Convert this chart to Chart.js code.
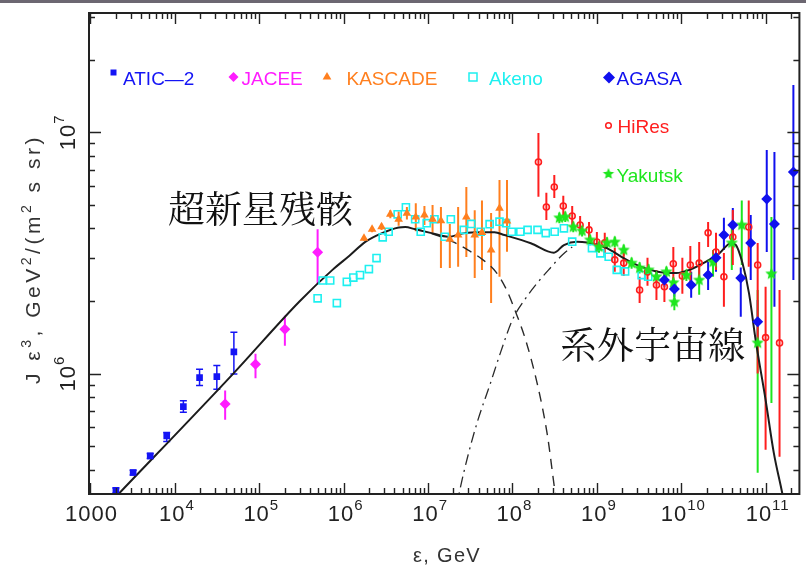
<!DOCTYPE html>
<html><head><meta charset="utf-8">
<script src="https://cdn.jsdelivr.net/npm/chart.js@4.4.0/dist/chart.umd.min.js"></script>
<style>html,body{margin:0;padding:0;background:#fff;}canvas{display:block;}</style>
</head><body>
<canvas id="c" width="806" height="571"></canvas>
<script>
// ---------------- DATA (energy E in GeV, J*E^3 in GeV^2/(m^2 s sr)) ----------------
const aticE  = [2.0e3, 3.2e3, 5.1e3, 8.0e3, 1.26e4, 1.96e4, 3.14e4, 5.0e4];
const aticJ  = [3.28e5, 3.89e5, 4.56e5, 5.52e5, 7.3e5, 9.62e5, 9.72e5, 1.23e6];
const aticLo = [3.2e5, 3.8e5, 4.45e5, 5.23e5, 6.92e5, 8.92e5, 8.61e5, 9.97e5];
const aticHi = [3.36e5, 3.98e5, 4.67e5, 5.7e5, 7.71e5, 1.043e6, 1.079e6, 1.483e6];

const jaceeE  = [3.94e4, 9.02e4, 2.01e5, 4.91e5];
const jaceeJ  = [7.49e5, 1.094e6, 1.527e6, 3.18e6];
const jaceeLo = [6.43e5, 9.57e5, 1.303e6, 2.355e6];
const jaceeHi = [8.5e5, 1.207e6, 1.738e6, 3.96e6];

const kascadeE  = [1.74e6, 2.17e6, 2.81e6, 3.57e6, 4.48e6, 5.61e6, 7.15e6, 9.05e6, 1.13e7, 1.42e7, 1.81e7, 2.27e7, 2.84e7, 3.57e7, 4.35e7, 5.58e7, 7.02e7, 8.61e7];
const kascadeJ  = [3.64e6, 3.96e6, 4.06e6, 4.57e6, 4.36e6, 4.62e6, 4.45e6, 4.54e6, 4.36e6, 4.30e6, 3.60e6, 3.75e6, 4.45e6, 3.75e6, 3.84e6, 3.25e6, 4.84e6, 4.29e6];
const kascadeLo = [3.55e6, 3.85e6, 3.94e6, 4.4e6, 4.1e6, 4.35e6, 3.89e6, 4.13e6, 3.83e6, 2.74e6, 2.74e6, 2.77e6, 3.04e6, 2.49e6, 2.69e6, 1.96e6, 2.52e6, 3.2e6];
const kascadeHi = [3.73e6, 4.07e6, 4.18e6, 4.75e6, 4.7e6, 4.9e6, 5.08e6, 4.95e6, 5.0e6, 4.9e6, 4.17e6, 4.9e6, 5.93e6, 4.75e6, 5.22e6, 4.63e6, 6.34e6, 6.34e6];

const akenoE = [4.91e5, 5.62e5, 6.92e5, 8.3e5, 1.09e6, 1.30e6, 1.56e6, 1.99e6, 2.45e6, 2.90e6, 3.41e6, 4.36e6, 5.46e6, 7.03e6, 8.18e6, 9.63e6, 1.19e7, 1.58e7, 1.86e7, 2.65e7, 3.25e7, 4.2e7, 5.36e7, 7.02e7, 8.39e7, 9.8e7, 1.24e8, 1.51e8, 1.98e8, 2.48e8, 3.16e8, 4.07e8, 5.1e8, 8.75e8, 1.10e9, 1.38e9, 1.72e9, 2.16e9, 3.39e9, 4.06e9];
const akenoJ = [2.05e6, 2.43e6, 2.43e6, 1.96e6, 2.40e6, 2.50e6, 2.56e6, 2.71e6, 3.01e6, 3.67e6, 3.87e6, 4.57e6, 4.89e6, 4.36e6, 3.87e6, 4.20e6, 4.36e6, 3.69e6, 4.36e6, 3.94e6, 4.17e6, 3.87e6, 4.16e6, 4.26e6, 4.20e6, 3.87e6, 3.87e6, 3.94e6, 3.94e6, 3.82e6, 3.87e6, 4.0e6, 3.52e6, 3.31e6, 3.15e6, 3.05e6, 2.69e6, 2.65e6, 2.56e6, 2.52e6];

const agasaE  = [6.31e9, 8.28e9, 1.31e10, 2.08e10, 2.58e10, 3.2e10, 4.08e10, 5.07e10, 6.65e10, 8.04e10, 1.03e11, 1.27e11, 2.13e11];
const agasaJ  = [2.44e6, 2.24e6, 2.33e6, 2.56e6, 3.02e6, 3.75e6, 4.13e6, 2.49e6, 3.48e6, 1.64e6, 5.29e6, 4.17e6, 6.85e6];
const agasaLo = [2.29e6, 2.08e6, 2.06e6, 2.22e6, 2.64e6, 3.25e6, 3.41e6, 1.72e6, 2.44e6, 1.32e6, 3.19e6, 1.89e6, 2.44e6];
const agasaHi = [2.64e6, 2.42e6, 2.64e6, 2.9e6, 3.41e6, 4.42e6, 4.86e6, 2.75e6, 4.54e6, 2.02e6, 8.45e6, 8.28e6, 1.57e7];

const hiresE  = [2.03e8, 2.52e8, 3.13e8, 4.0e8, 5.1e8, 6.33e8, 8.07e8, 1.0e9, 1.24e9, 1.63e9, 2.08e9, 3.21e9, 3.98e9, 5.08e9, 6.31e9, 8.05e9, 1.03e10, 1.28e10, 1.63e10, 2.08e10, 2.58e10, 3.2e10, 4.08e10, 6.3e10, 8.04e10, 9.98e10, 1.46e11];
const hiresJ  = [7.53e6, 4.90e6, 5.93e6, 4.95e6, 4.5e6, 4.13e6, 3.94e6, 3.51e6, 3.48e6, 2.96e6, 2.87e6, 2.22e6, 2.64e6, 2.33e6, 2.29e6, 2.85e6, 2.54e6, 2.82e6, 2.87e6, 3.83e6, 3.19e6, 2.52e6, 3.68e6, 4.05e6, 2.82e6, 1.41e6, 1.34e6];
const hiresLo = [5.40e6, 4.33e6, 5.34e6, 4.5e6, 4.09e6, 3.79e6, 3.58e6, 3.19e6, 3.16e6, 2.64e6, 2.54e6, 1.96e6, 2.31e6, 2.02e6, 1.98e6, 2.44e6, 2.14e6, 2.35e6, 2.38e6, 3.35e6, 2.69e6, 1.89e6, 2.82e6, 2.77e6, 1.0e6, 4.83e5, 4.52e5];
const hiresHi = [9.94e6, 5.61e6, 6.65e6, 5.45e6, 4.95e6, 4.5e6, 4.25e6, 3.86e6, 3.83e6, 3.32e6, 3.25e6, 2.52e6, 3.02e6, 2.69e6, 2.64e6, 3.35e6, 3.02e6, 3.38e6, 3.51e6, 4.25e6, 3.83e6, 3.16e6, 4.76e6, 5.21e6, 3.48e6, 2.29e6, 2.22e6];

const yakutskE  = [3.59e8, 4.22e8, 5.25e8, 6.68e8, 8.3e8, 1.06e9, 1.32e9, 1.63e9, 2.08e9, 2.58e9, 3.21e9, 4.09e9, 5.08e9, 6.67e9, 8.05e9, 8.28e9, 1.15e10, 1.63e10, 2.38e10, 3.97e10, 5.21e10, 8.04e10, 1.17e11];
const yakutskJ  = [4.42e6, 4.46e6, 4.05e6, 3.9e6, 3.58e6, 3.35e6, 3.48e6, 3.51e6, 3.25e6, 2.87e6, 2.74e6, 2.69e6, 2.52e6, 2.64e6, 2.38e6, 1.98e6, 2.56e6, 2.44e6, 2.9e6, 3.48e6, 4.13e6, 1.34e6, 2.59e6];
const yakutskLo = [4.2e6, 4.25e6, 3.85e6, 3.7e6, 3.4e6, 3.17e6, 3.3e6, 3.33e6, 3.08e6, 2.72e6, 2.6e6, 2.55e6, 2.39e6, 2.5e6, 2.25e6, 1.83e6, 2.42e6, 2.12e6, 2.52e6, 2.69e6, 2.82e6, 3.88e5, 7.56e5];
const yakutskHi = [4.65e6, 4.7e6, 4.27e6, 4.1e6, 3.77e6, 3.53e6, 3.67e6, 3.7e6, 3.43e6, 3.03e6, 2.89e6, 2.84e6, 2.66e6, 2.78e6, 2.51e6, 2.15e6, 2.7e6, 2.96e6, 3.25e6, 4.05e6, 5.21e6, 2.22e6, 4.46e6];

// model curves
const totalE = [1.75e3, 4.92e4, 2.99e5, 7.36e5, 1.16e6, 1.82e6, 2.85e6, 4.48e6, 5.37e6, 7.03e6, 1.10e7, 1.73e7, 2.72e7, 4.27e7, 6.12e7, 8.04e7, 1.65e8, 3.10e8, 4.07e8, 5.83e8, 7.65e8, 1.31e9, 2.07e9, 3.24e9, 5.08e9, 8.73e9, 1.25e10, 1.97e10, 2.82e10, 3.87e10, 4.43e10, 5.31e10, 6.35e10, 7.6e10, 9.98e10, 1.25e11, 1.57e11, 1.71e11];
const totalJ = [2.94e5, 1.0e6, 1.99e6, 2.69e6, 3.07e6, 3.52e6, 3.82e6, 4.03e6, 4.05e6, 3.96e6, 3.82e6, 3.69e6, 3.82e6, 3.85e6, 3.85e6, 3.75e6, 3.47e6, 3.17e6, 3.41e6, 3.52e6, 3.49e6, 3.31e6, 3.01e6, 2.78e6, 2.65e6, 2.61e6, 2.69e6, 2.91e6, 3.15e6, 3.47e6, 3.41e6, 2.87e6, 2.15e6, 1.38e6, 7.78e5, 4.68e5, 3.2e5, 2.72e5];
const snrE = [7.03e6, 8.81e6, 1.32e7, 1.98e7, 2.98e7, 4.47e7, 6.35e7, 8.32e7, 1.09e8, 1.43e8, 1.98e8, 2.59e8, 3.22e8, 3.4e8];
const snrJ = [3.96e6, 3.90e6, 3.72e6, 3.51e6, 3.25e6, 2.96e6, 2.64e6, 2.26e6, 1.80e6, 1.38e6, 8.98e5, 5.57e5, 3.18e5, 2.86e5];
const egE = [2.15e7, 2.33e7, 2.98e7, 3.9e7, 5.4e7, 7.26e7, 1.0e8, 1.39e8, 1.98e8, 2.81e8, 3.89e8, 5.1e8];
const egJ = [2.72e5, 3.18e5, 4.6e5, 6.43e5, 8.98e5, 1.23e6, 1.67e6, 2.02e6, 2.38e6, 2.74e6, 3.10e6, 3.35e6];

// axis ticks
const xTickVals = [1e3, 1e4, 1e5, 1e6, 1e7, 1e8, 1e9, 1e10, 1e11];
const xTickBase = ['1000', '10', '10', '10', '10', '10', '10', '10', '10'];
const xTickExp  = ['', '4', '5', '6', '7', '8', '9', '10', '11'];
const yTickVals = [1e6, 1e7];
const yTickBase = ['10', '10'];
const yTickExp  = ['6', '7'];

// ---------------- helpers ----------------
const pts = (xs, ys) => xs.map((v, i) => ({x: v, y: ys[i]}));
const C = {atic:'#1414f5', jacee:'#ff1cff', kascade:'#ff7f1e', akeno:'#1ef0f0', agasa:'#1010ee', hires:'#ff1e1e', yakutsk:'#1ee61e'};
function makeStar(color, r) {
  const s = Math.ceil(r * 2 + 2), c = document.createElement('canvas');
  c.width = s; c.height = s;
  const g = c.getContext('2d');
  g.fillStyle = color; g.beginPath();
  for (let i = 0; i < 10; i++) {
    const a = -Math.PI / 2 + i * Math.PI / 5, rr = i % 2 ? r * 0.45 : r;
    g.lineTo(s / 2 + rr * Math.cos(a), s / 2 + rr * Math.sin(a));
  }
  g.closePath(); g.fill();
  return c;
}
const starImg = makeStar(C.yakutsk, 6.5);
const starLegend = makeStar(C.yakutsk, 6);

function ptDS(label, xs, ys, lo, hi, opts) {
  return Object.assign({label, data: pts(xs, ys), showLine: false, errLo: lo, errHi: hi, borderWidth: 0}, opts);
}
function lineDS(label, xs, ys, color, width, dash) {
  return {label, data: pts(xs, ys), showLine: true, pointRadius: 0, borderColor: color, borderWidth: width,
    borderDash: dash, cubicInterpolationMode: 'monotone', fill: false};
}

const errorBars = {
  id: 'errorBars',
  beforeDatasetsDraw(chart) {
    const {ctx, chartArea: a} = chart, xs = chart.scales.x, ys = chart.scales.y;
    ctx.save();
    ctx.beginPath(); ctx.rect(a.left, a.top, a.right - a.left, a.bottom - a.top); ctx.clip();
    chart.data.datasets.forEach(ds => {
      if (!ds.errLo) return;
      ctx.strokeStyle = ds.errColor; ctx.lineWidth = ds.errWidth;
      ds.data.forEach((p, i) => {
        const px = xs.getPixelForValue(p.x);
        const y1 = ys.getPixelForValue(ds.errLo[i]), y2 = ys.getPixelForValue(ds.errHi[i]);
        ctx.beginPath(); ctx.moveTo(px, y1); ctx.lineTo(px, y2);
        if (ds.errCap) {
          ctx.moveTo(px - ds.errCap, y1); ctx.lineTo(px + ds.errCap, y1);
          ctx.moveTo(px - ds.errCap, y2); ctx.lineTo(px + ds.errCap, y2);
        }
        ctx.stroke();
      });
    });
    ctx.restore();
  }
};

const FONT = '"Liberation Sans", Arial, Helvetica, sans-serif';
function supText(ctx, base, exp, cx, baseline, fb, fs, raise, ls) {
  ctx.letterSpacing = ls + 'px';
  ctx.font = fb + 'px ' + FONT; const wb = ctx.measureText(base).width;
  ctx.font = fs + 'px ' + FONT; const we = exp ? ctx.measureText(exp).width : 0;
  const x0 = cx - (wb + we) / 2;
  ctx.font = fb + 'px ' + FONT; ctx.fillText(base, x0, baseline);
  if (exp) { ctx.font = fs + 'px ' + FONT; ctx.fillText(exp, x0 + wb, baseline - raise); }
}
// draws text made of normal / superscript parts, stretched by letter spacing to a target width
function richText(ctx, parts, cx, baseline, fb, fs, raise, target) {
  ctx.letterSpacing = '0px';
  let w = 0, n = 0;
  parts.forEach(p => { ctx.font = (p[1] ? fs : fb) + 'px ' + FONT; w += ctx.measureText(p[0]).width; n += p[0].length; });
  const ls = Math.max(0, (target - w) / n);
  ctx.letterSpacing = ls + 'px';
  w = 0;
  parts.forEach(p => { ctx.font = (p[1] ? fs : fb) + 'px ' + FONT; w += ctx.measureText(p[0]).width; });
  let x = cx - w / 2;
  parts.forEach(p => {
    ctx.font = (p[1] ? fs : fb) + 'px ' + FONT;
    ctx.fillText(p[0], x, baseline - (p[1] ? raise : 0));
    x += ctx.measureText(p[0]).width;
  });
}
function marker(ctx, style, x, y, r, color, hollow) {
  ctx.save();
  ctx.fillStyle = color; ctx.strokeStyle = color; ctx.lineWidth = 1.5;
  ctx.beginPath();
  if (style === 'rect') ctx.rect(x - r, y - r, 2 * r, 2 * r);
  else if (style === 'diamond') { ctx.moveTo(x - r, y); ctx.lineTo(x, y - r); ctx.lineTo(x + r, y); ctx.lineTo(x, y + r); ctx.closePath(); }
  else if (style === 'triangle') { ctx.moveTo(x, y - r); ctx.lineTo(x + r * 0.87, y + r * 0.5); ctx.lineTo(x - r * 0.87, y + r * 0.5); ctx.closePath(); }
  else if (style === 'circle') ctx.arc(x, y, r, 0, Math.PI * 2);
  if (hollow) ctx.stroke(); else ctx.fill();
  ctx.restore();
}

const decorations = {
  id: 'decorations',
  afterDraw(chart) {
    const ctx = chart.ctx, a = chart.chartArea, xs = chart.scales.x, ys = chart.scales.y;
    ctx.save();
    ctx.fillStyle = '#6c6771'; ctx.fillRect(0, 0, 806, 3);
    // minor/major ticks, pointing inward on all four sides
    ctx.strokeStyle = '#222'; ctx.lineWidth = 1.4;
    ctx.beginPath();
    for (let k = 2; k <= 11; k++) for (let m = 1; m <= 9; m++) {
      const v = m * Math.pow(10, k);
      if (v > xs.min && v < xs.max) {
        const p = Math.round(xs.getPixelForValue(v)) + 0.5, L = m === 1 ? 11 : 6;
        ctx.moveTo(p, a.bottom); ctx.lineTo(p, a.bottom - L);
        ctx.moveTo(p, a.top); ctx.lineTo(p, a.top + L);
      }
      if (v > ys.min && v < ys.max) {
        const p = Math.round(ys.getPixelForValue(v)) + 0.5, L = m === 1 ? 12 : 6;
        ctx.moveTo(a.left, p); ctx.lineTo(a.left + L, p);
        ctx.moveTo(a.right, p); ctx.lineTo(a.right - L, p);
      }
    }
    ctx.stroke();
    ctx.lineWidth = 2;
    ctx.strokeRect(a.left, a.top, a.right - a.left, a.bottom - a.top);

    // tick labels
    ctx.fillStyle = '#222'; ctx.textAlign = 'left'; ctx.textBaseline = 'alphabetic';
    xTickVals.forEach((v, i) => {
      const p = Math.max(xs.getPixelForValue(v), a.left);
      supText(ctx, xTickBase[i], xTickExp[i], p + (xTickExp[i] ? 2 : 1), 521, 22, 15, 11, 1);
    });
    yTickVals.forEach((v, i) => {
      ctx.save();
      ctx.translate(75, ys.getPixelForValue(v));
      ctx.rotate(-Math.PI / 2);
      supText(ctx, yTickBase[i], yTickExp[i], 0, 0, 22, 15, 11, 1);
      ctx.restore();
    });
    // axis titles
    ctx.fillStyle = '#333';
    richText(ctx, [['ε, GeV', 0]], 447, 562, 20, 14, 8, 68);
    ctx.save();
    ctx.translate(40, 259);
    ctx.rotate(-Math.PI / 2);
    richText(ctx, [['J ε', 0], ['3', 1], [', GeV', 0], ['2', 1], ['/(m', 0], ['2', 1], [' s sr)', 0]], 0, 0, 21, 14, 9, 250);
    ctx.restore();

    // legend
    ctx.letterSpacing = '0px';
    ctx.font = '19px ' + FONT;
    const leg = [
      ['rect', 113.5, 72.5, 3, C.atic, false, 'ATIC—2', 123, 85],
      ['diamond', 233.5, 77, 5, C.jacee, false, 'JACEE', 241.5, 85],
      ['triangle', 327, 77, 5, C.kascade, false, 'KASCADE', 346.5, 85],
      ['rect', 473, 77, 4, C.akeno, true, 'Akeno', 489, 85],
      ['diamond', 609, 77.5, 6, C.agasa, false, 'AGASA', 616.5, 85],
      ['circle', 608.5, 125.5, 2.8, C.hires, true, 'HiRes', 617.5, 133],
      ['star', 608.5, 174, 6, C.yakutsk, false, 'Yakutsk', 616.5, 182]
    ];
    leg.forEach(l => {
      if (l[0] === 'star') ctx.drawImage(starLegend, l[1] - starLegend.width / 2, l[2] - starLegend.height / 2);
      else marker(ctx, l[0], l[1], l[2], l[3], l[4], l[5]);
      ctx.fillStyle = l[4];
      ctx.fillText(l[6], l[7], l[8]);
    });

    // annotations
    ctx.fillStyle = '#111';
    ctx.textBaseline = 'middle';
    ctx.font = '37px "Noto Serif CJK JP", "Noto Sans CJK JP", sans-serif';
    ctx.fillText('超新星残骸', 168, 209);
    ctx.fillText('系外宇宙線', 560, 345);
    ctx.restore();
  }
};

new Chart(document.getElementById('c'), {
  type: 'scatter',
  data: {
    datasets: [
      ptDS('ATIC-2', aticE, aticJ, aticLo, aticHi, {pointStyle: 'rect', pointRadius: 4.7, backgroundColor: C.atic, errColor: C.atic, errWidth: 1.5, errCap: 3.5}),
      ptDS('JACEE', jaceeE, jaceeJ, jaceeLo, jaceeHi, {pointStyle: 'rectRot', pointRadius: 5.5, backgroundColor: C.jacee, errColor: C.jacee, errWidth: 2}),
      ptDS('AGASA', agasaE, agasaJ, agasaLo, agasaHi, {pointStyle: 'rectRot', pointRadius: 5.5, backgroundColor: C.agasa, errColor: C.agasa, errWidth: 2}),
      ptDS('Yakutsk', yakutskE, yakutskJ, yakutskLo, yakutskHi, {pointStyle: starImg, pointRadius: 6, backgroundColor: C.yakutsk, errColor: C.yakutsk, errWidth: 2}),
      ptDS('HiRes', hiresE, hiresJ, hiresLo, hiresHi, {pointStyle: 'circle', pointRadius: 3, backgroundColor: 'rgba(255,255,255,0)', borderColor: C.hires, borderWidth: 1.6, errColor: C.hires, errWidth: 2}),
      ptDS('KASCADE', kascadeE, kascadeJ, kascadeLo, kascadeHi, {pointStyle: 'triangle', pointRadius: 5, backgroundColor: C.kascade, errColor: C.kascade, errWidth: 2}),
      ptDS('Akeno', akenoE, akenoJ, null, null, {pointStyle: 'rect', pointRadius: 5, backgroundColor: 'rgba(255,255,255,0)', borderColor: C.akeno, borderWidth: 1.6}),
      lineDS('total', totalE, totalJ, '#1c1c1c', 2, []),
      lineDS('SNR', snrE, snrJ, '#2a2a2a', 1.4, [10, 7]),
      lineDS('extragalactic', egE, egJ, '#2a2a2a', 1.3, [11, 5, 2, 5])
    ]
  },
  options: {
    responsive: false, animation: false, devicePixelRatio: 1,
    layout: {padding: {left: 89, right: 2, top: 13, bottom: 77}},
    scales: {
      x: {type: 'logarithmic', min: 960, max: 2.51e11, display: false},
      y: {type: 'logarithmic', min: 3.17e5, max: 3.12e7, display: false}
    },
    plugins: {legend: {display: false}, tooltip: {enabled: false}}
  },
  plugins: [errorBars, decorations]
});
</script>
</body></html>
